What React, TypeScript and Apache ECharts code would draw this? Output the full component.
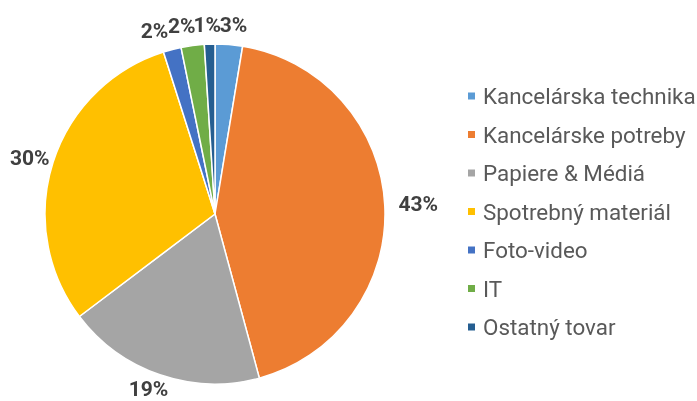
import React, { useEffect, useRef } from "react";
import * as echarts from "echarts";

const categories = [
  "Kancelárska technika",
  "Kancelárske potreby",
  "Papiere & Médiá",
  "Spotrebný materiál",
  "Foto-video",
  "IT",
  "Ostatný tovar",
];
const values = [2.6, 43.2, 18.9, 30.4, 1.7, 2.2, 1.0];
const colors = ["#5B9BD5", "#ED7D31", "#A5A5A5", "#FFC000", "#4472C4", "#70AD47", "#255E91"];

const CX = 215;
const CY = 214;
const R = 170;
const LABEL_FONT_SIZE = 21;

// approximate glyph widths (em) of the bold label font
function textWidth(t: string) {
  let em = 0;
  for (const ch of t) em += ch === "%" ? 0.733 : ch === "1" ? 0.4 : 0.562;
  return em * LABEL_FONT_SIZE;
}

function computeLabelCenters() {
  const total = values.reduce((a, b) => a + b, 0);
  let acc = 0;
  const h = LABEL_FONT_SIZE;
  const items = values.map((v) => {
    const mid = ((acc + v / 2) / total) * Math.PI * 2;
    acc += v;
    const ux = Math.sin(mid);
    const uy = -Math.cos(mid);
    const text = Math.round(v) + "%";
    const w = textWidth(text);
    const g = 9 + 5 * ux * Math.abs(ux) - 4.5 * Math.max(0, uy);
    const x = CX + ux * (R + g) + Math.sign(ux) * Math.sqrt(Math.abs(ux)) * (w / 2);
    const y = CY + uy * (R + g) + uy * (h / 2);
    return { x, y, w, h, ux };
  });
  const placed: number[] = [];
  const overlaps = (a: any, b: any) =>
    Math.abs(a.x - b.x) < (a.w + b.w) / 2 && Math.abs(a.y - b.y) < (a.h + b.h) / 2;
  const right = items.map((_, i) => i).filter((i) => items[i].ux >= 0).sort((a, b) => items[a].x - items[b].x);
  const left = items.map((_, i) => i).filter((i) => items[i].ux < 0).sort((a, b) => items[b].x - items[a].x);
  right.forEach((i) => {
    placed.forEach((j) => {
      if (overlaps(items[i], items[j])) items[i].x = items[j].x + (items[i].w + items[j].w) / 2;
    });
    placed.push(i);
  });
  left.forEach((i) => {
    placed.forEach((j) => {
      if (overlaps(items[i], items[j])) items[i].x = items[j].x - (items[i].w + items[j].w) / 2;
    });
    placed.push(i);
  });
  return items;
}

export default function App() {
  const ref = useRef<HTMLDivElement>(null);
  useEffect(() => {
    if (!ref.current) return;
    const chart = echarts.init(ref.current, undefined, { renderer: "svg" });
    const centers = computeLabelCenters();
    chart.setOption({
      animation: false,
      color: colors,
      legend: {
        orient: "vertical",
        left: 466,
        top: 85,
        padding: 0,
        icon: "rect",
        itemWidth: 9,
        itemHeight: 9,
        itemGap: 16.5,
        textStyle: {
          fontFamily: "Roboto",
          fontSize: 22.4,
          lineHeight: 22,
          color: "#595959",
          padding: [0, 0, 0, 2],
        },
        data: categories,
      },
      series: [
        {
          type: "pie",
          center: [CX, CY],
          radius: [0, R],
          startAngle: 90,
          clockwise: true,
          avoidLabelOverlap: false,
          data: categories.map((c, i) => ({ name: c, value: values[i] })),
          itemStyle: { borderColor: "#ffffff", borderWidth: 1.5 },
          label: {
            show: true,
            position: "outside",
            formatter: (p: any) => Math.round(p.value) + "%",
            fontFamily: "Roboto",
            fontWeight: "bold",
            fontSize: LABEL_FONT_SIZE,
            color: "#404040",
          },
          labelLine: { show: false },
          labelLayout: (params: any) => {
            const c = centers[params.dataIndex];
            if (!c) return {};
            return { x: c.x, y: c.y, align: "center", verticalAlign: "middle" };
          },
        },
      ],
    });
    return () => chart.dispose();
  }, []);
  return <div ref={ref} style={{ position: "fixed", left: 0, top: 0, width: 697, height: 401 }} />;
}
